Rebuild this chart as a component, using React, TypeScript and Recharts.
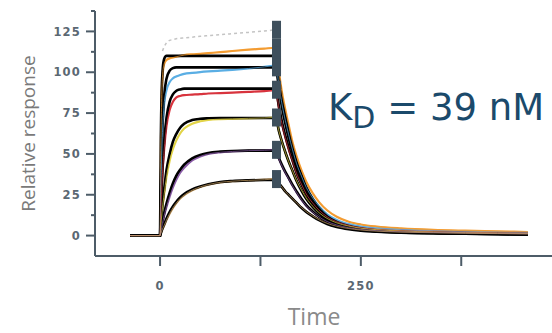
import React from "react"
import { ComposedChart, Line, Scatter, XAxis, YAxis, Label } from "recharts"

// time points (s), shared by every sensorgram
const times = [
  -37, 0, 1, 2, 3, 5, 8, 12, 16, 20, 25, 30, 40, 50, 60, 75, 90, 110, 130, 144,
  148, 152, 156, 160, 165, 170, 176, 182, 190, 198, 208, 220, 235, 250, 270, 300, 340, 380, 420, 458,
]

// measured responses (coloured) and fitted curves (black)
const data1 = [0, 0, 55, 84, 97, 105, 107.5, 108.5, 109, 109.5, 110, 110.5, 111, 111.3, 111.7, 112.3, 113, 113.8, 114.5, 115,
  100, 87, 77, 68, 57, 48.5, 40, 33, 26, 20.5, 15.5, 11.5, 8.5, 6.8, 5.5, 4.4, 3.5, 3, 2.6, 2.2]
const fit1 = [0, 0, 60, 88, 100, 108, 110, 110, 110, 110, 110, 110, 110, 110, 110, 110, 110, 110, 110, 110,
  96, 83, 73, 64, 54, 45, 37, 29.5, 22.5, 17, 12, 8.5, 6, 4.5, 3.3, 2.5, 1.9, 1.5, 1.2, 1]
const data2 = [0, 0, 28, 49, 63, 80, 89, 94, 96.3, 97.4, 98.3, 99, 99.6, 100.1, 100.5, 101, 101.5, 102.3, 103.3, 104,
  92, 80, 70.5, 62, 52.5, 44, 36.5, 29.5, 23, 17.8, 13, 9.5, 7, 5.5, 4.4, 3.5, 2.8, 2.3, 2, 1.7]
const fit2 = [0, 0, 30, 52, 67, 85, 96, 101, 102.5, 103, 103, 103, 103, 103, 103, 103, 103, 103, 103, 103,
  90, 78, 68.5, 60, 50.5, 42, 34.5, 27.5, 21, 16, 11.3, 8, 5.6, 4.2, 3.1, 2.3, 1.8, 1.4, 1.1, 0.9]
const data3 = [0, 0, 15, 28, 38, 52, 67, 77, 82, 84.5, 85.5, 86, 86.3, 86.6, 87, 87.2, 87.5, 88, 88.5, 89,
  78, 68, 60, 53, 45.5, 38, 31.5, 25.5, 20, 15.5, 11.5, 8.5, 6.2, 4.8, 3.8, 3, 2.4, 2, 1.7, 1.5]
const fit3 = [0, 0, 16, 30, 41, 57, 72, 82, 86.5, 88.5, 89.5, 90, 90, 90, 90, 90, 90, 90, 90, 90,
  79, 69, 61, 54, 46, 38.5, 31.5, 25.5, 19.5, 15, 10.7, 7.6, 5.3, 4, 3, 2.2, 1.7, 1.3, 1.1, 0.9]
const data4 = [0, 0, 6, 12, 17, 25, 36, 46, 53, 58, 62.5, 65.5, 68.5, 70, 70.8, 71.3, 71.5, 71.8, 72, 72.3,
  64, 57, 51, 45.5, 39.5, 33.5, 28, 23, 18, 14, 10.5, 7.8, 5.8, 4.5, 3.6, 2.8, 2.2, 1.8, 1.5, 1.3]
const fit4 = [0, 0, 7, 13, 19, 28, 40, 50, 57.5, 62, 66, 68.4, 70.7, 71.5, 71.8, 72, 72, 72, 72, 72,
  64, 57, 51, 45.5, 39.5, 33.5, 27.5, 22.5, 17.5, 13.5, 9.8, 7, 5, 3.8, 2.9, 2.1, 1.6, 1.3, 1, 0.8]
const data5 = [0, 0, 2.5, 5, 7.5, 12, 17.5, 24, 29.5, 34, 38.5, 41.5, 46, 48.5, 50, 51, 51.5, 52, 52.2, 52.5,
  47, 42.5, 38.5, 35, 30.5, 26.5, 22, 18.3, 14.5, 11.4, 8.6, 6.5, 4.8, 3.8, 3, 2.3, 1.9, 1.6, 1.3, 1.1]
const fit5 = [0, 0, 3, 6, 8.6, 13.5, 19.6, 26.3, 32, 36.4, 40.3, 43.4, 47.3, 49.4, 50.6, 51.4, 51.8, 52, 52, 52,
  47.5, 43, 39, 35.5, 31, 27, 22.5, 18.7, 14.8, 11.5, 8.5, 6.2, 4.5, 3.4, 2.6, 1.9, 1.5, 1.2, 1, 0.8]
const data6 = [0, 0, 1.3, 2.7, 4, 6, 9.5, 13.5, 17, 19.8, 22.7, 24.8, 27.8, 29.8, 31.2, 32.6, 33.3, 33.8, 34.2, 34.6,
  32, 29.5, 27, 25, 22.5, 20, 17.2, 14.7, 12, 9.7, 7.5, 5.7, 4.3, 3.4, 2.7, 2.1, 1.7, 1.4, 1.2, 1]
const fit6 = [0, 0, 1.5, 3, 4.3, 6.8, 10.5, 14.6, 17.9, 20.6, 23.4, 25.5, 28.3, 30.1, 31.4, 32.8, 33.4, 33.8, 34, 34,
  32, 29.5, 27, 25, 22.5, 20, 17, 14.5, 11.8, 9.4, 7.1, 5.3, 3.9, 3, 2.3, 1.7, 1.4, 1.1, 0.9, 0.7]

// dotted Rmax guide during association
const rmax = [null, null, null, null, 113, 115.5, 118, 119.5, 120, 120.5, 120.8, 121, 121.5, 122, 122.4, 123, 123.6, 124.4, 125.3, 126,
  null, null, null, null, null, null, null, null, null, null, null, null, null, null, null, null, null, null, null, null]

// report-point markers at end of injection
const markerTime = 145
const markerValues = [126, 115, 110, 104, 103, 89.3, 72.3, 52.5, 34.6]

const xTicks = [0, 125, 250, 375]
const yTicks = [0, 12.5, 25, 37.5, 50, 62.5, 75, 87.5, 100, 112.5, 125, 137.5]

const dataColors = ["#f39c32", "#5aaee4", "#d8343e", "#e2d448", "#8c5ea8", "#c9a063"]
const measured = [data1, data2, data3, data4, data5, data6]
const fitted = [fit1, fit2, fit3, fit4, fit5, fit6]

const AXIS = "#4d5c68"
const TICK_FONT = "'DejaVu Sans', sans-serif"
const LABEL_FONT = "'Open Sans', sans-serif"

const rows = times.map((t, i) => {
  const row: Record<string, number | null> = { t, rmax: rmax[i] }
  measured.forEach((s, k) => (row["d" + k] = s[i]))
  fitted.forEach((s, k) => (row["f" + k] = s[i]))
  return row
})

const markers = markerValues.map((v) => ({ t: markerTime, v }))

const YTick = (props: any) => {
  const { x, y, payload } = props
  const major = payload.value % 25 === 0
  return (
    <g>
      <line x1={x - (major ? 9 : 4)} x2={x} y1={y} y2={y} stroke={AXIS} strokeWidth={2} />
      {major && (
        <text x={x - 14} y={y} dy="0.36em" textAnchor="end" fontSize={11.5} fontWeight="bold" letterSpacing={1.2}
          fontFamily={TICK_FONT} fill="#5b6873">
          {payload.value}
        </text>
      )}
    </g>
  )
}

const XTick = (props: any) => {
  const { x, y, payload } = props
  const labelled = payload.value % 250 === 0
  return (
    <g>
      <line x1={x} x2={x} y1={y} y2={y + 10} stroke={AXIS} strokeWidth={2} />
      {labelled && (
        <text x={x} y={y + 30} dy="0.36em" textAnchor="middle" fontSize={11.5} fontWeight="bold" letterSpacing={1.2}
          fontFamily={TICK_FONT} fill="#5b6873">
          {payload.value}
        </text>
      )}
    </g>
  )
}

const MarkerShape = (props: any) => {
  const { cx, cy } = props
  return <rect x={cx - 4.5} y={cy - 9} width={9} height={18} fill="#3e4f5c" />
}

export default function App() {
  return (
    <div style={{ position: "absolute", left: 0, top: 0, width: 552, height: 333, background: "#fff" }}>
      <ComposedChart width={552} height={333} data={rows} margin={{ top: 11, right: 0, bottom: 0, left: 0 }}>
        <XAxis
          dataKey="t"
          type="number"
          domain={[-81, 488]}
          allowDataOverflow
          ticks={xTicks}
          interval={0}
          tick={<XTick />}
          tickLine={false}
          tickSize={0}
          tickMargin={0}
          height={77}
          axisLine={{ stroke: AXIS, strokeWidth: 2 }}
        >
          <Label
            content={({ viewBox }: any) => (
              <text x={viewBox.x + viewBox.width / 2 - 9.5} y={viewBox.y + 69} textAnchor="middle"
                fontSize={23} fontFamily={LABEL_FONT} fill="#8a8a8a">
                Time
              </text>
            )}
          />
        </XAxis>
        <YAxis
          type="number"
          domain={[-12.5, 137.5]}
          allowDataOverflow
          ticks={yTicks}
          interval={0}
          tick={<YTick />}
          tickLine={false}
          tickSize={0}
          tickMargin={0}
          width={95}
          axisLine={{ stroke: AXIS, strokeWidth: 2 }}
        >
          <Label
            content={({ viewBox }: any) => {
              const cx = 28
              const cy = viewBox.y + viewBox.height / 2
              return (
                <text x={cx} y={cy} transform={`rotate(-90, ${cx}, ${cy})`} textAnchor="middle"
                  dominantBaseline="central" fontSize={19} fontFamily={LABEL_FONT} fill="#7a7a7a">
                  Relative response
                </text>
              )
            }}
          />
        </YAxis>

        <Line dataKey="rmax" type="monotone" stroke="#c4c4c4" strokeWidth={1.5} strokeDasharray="3 3"
          dot={false} isAnimationActive={false} connectNulls={false} />

        {measured.map((_, k) => (
          <Line key={"d" + k} dataKey={"d" + k} type="monotone" stroke={dataColors[k]} strokeWidth={2.2}
            dot={false} isAnimationActive={false} />
        ))}
        {fitted.map((_, k) => (
          <Line key={"f" + k} dataKey={"f" + k} type="monotone" stroke="#000" strokeWidth={2.6}
            dot={false} isAnimationActive={false} />
        ))}
        {measured.map((_, k) => (
          <Line key={"o" + k} dataKey={"d" + k} type="monotone" stroke={dataColors[k]} strokeWidth={1}
            strokeOpacity={0.7} dot={false} isAnimationActive={false} />
        ))}

        <Scatter data={markers} dataKey="v" shape={<MarkerShape />} isAnimationActive={false} />
      </ComposedChart>

      <svg width={552} height={333} style={{ position: "absolute", left: 0, top: 0, pointerEvents: "none" }}>
        <text x={328} y={120} fontSize={37} fontFamily={TICK_FONT} fill="#1b4a6b">
          K
          <tspan dy={8} fontSize={30}>D</tspan>
          <tspan dy={-8} fontSize={37}> = 39 nM</tspan>
        </text>
      </svg>
    </div>
  )
}
